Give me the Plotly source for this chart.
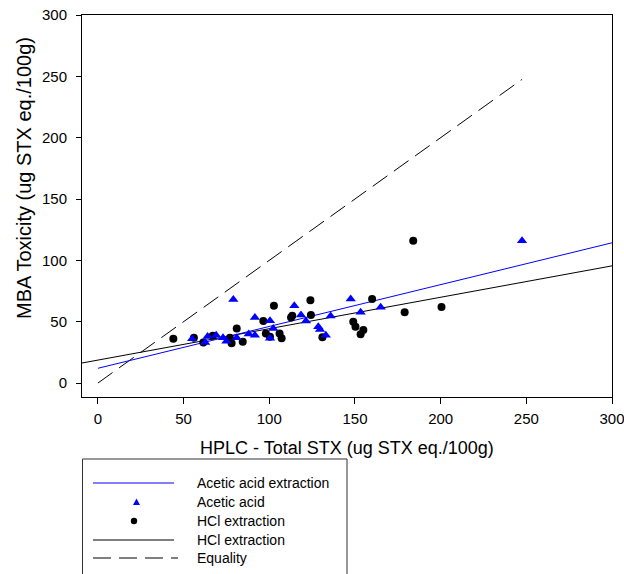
import plotly.graph_objects as go

# ---- data ----
acetic_x = [55, 62.6, 64, 69, 73, 75, 79, 81, 88, 91.6, 91.6, 100.4, 100.4, 102.3,
            114.6, 118.5, 121.4, 128.6, 129.6, 133, 135.8, 147.5, 153.3, 165, 247.5]
acetic_y = [36, 33, 38, 39, 37, 34, 68, 37, 40, 39, 53.5, 50.8, 36.4, 44.5,
            63, 55.4, 50.5, 45.9, 43.7, 39, 54.6, 68.5, 57.6, 61.7, 116]
hcl_x = [44, 56, 61.5, 67, 77, 78, 81, 84.5, 96.5, 98, 100.4, 102.7, 106, 107.2,
         112.7, 113.4, 124, 124.3, 131, 149, 150.3, 153.3, 154.9, 160, 179, 184, 200.5]
hcl_y = [36, 37, 33, 38.5, 37, 32.5, 44.5, 33.7, 50.5, 40.4, 37.7, 63, 40.4, 36.4,
         53.5, 54.8, 67.4, 55.4, 37.3, 50, 45.9, 39.7, 43.2, 68.5, 57.6, 116, 62]

acetic_fit = {"intercept": 12.0, "slope": 0.341, "x": [0, 300]}
hcl_fit = {"intercept": 18.7, "slope": 0.256, "x": [-9.3, 300]}
equality_x = [0, max(acetic_x + hcl_x)]

x_ticks = [0, 50, 100, 150, 200, 250, 300]
y_ticks = [0, 50, 100, 150, 200, 250, 300]
x_range = [-9.3, 300]
y_range = [-11.4, 300]

legend_labels = ["Acetic acid extraction", "Acetic acid", "HCl extraction",
                 "HCl extraction", "Equality"]

FONT = "Liberation Sans, Arial, sans-serif"
BLUE = "#0000FF"

fig = go.Figure()

# equality line
fig.add_trace(go.Scatter(x=equality_x, y=equality_x, mode="lines",
                         line=dict(color="black", width=1, dash="18px,8px"),
                         showlegend=False, hoverinfo="skip"))
# HCl regression
fig.add_trace(go.Scatter(x=hcl_fit["x"],
                         y=[hcl_fit["intercept"] + hcl_fit["slope"] * v for v in hcl_fit["x"]],
                         mode="lines", line=dict(color="black", width=1),
                         showlegend=False, hoverinfo="skip"))
# Acetic regression
fig.add_trace(go.Scatter(x=acetic_fit["x"],
                         y=[acetic_fit["intercept"] + acetic_fit["slope"] * v for v in acetic_fit["x"]],
                         mode="lines", line=dict(color=BLUE, width=1),
                         showlegend=False, hoverinfo="skip"))
# HCl points
fig.add_trace(go.Scatter(x=hcl_x, y=hcl_y, mode="markers",
                         marker=dict(symbol="circle", size=8, color="black"),
                         showlegend=False))
# Acetic points
fig.add_trace(go.Scatter(x=acetic_x, y=acetic_y, mode="markers",
                         marker=dict(symbol="triangle-up", size=9, color=BLUE),
                         showlegend=False))

# ---- layout geometry (pixels) ----
W, H = 624, 574
L, R, T, B = 82, 12, 15, 177
PW, PH = W - L - R, H - T - B


def px(p):
    return (p - L) / PW


def py(p):
    return (H - B - p) / PH


axis_common = dict(showgrid=False, zeroline=False, showline=True, linecolor="black",
                   linewidth=1, mirror=True, ticks="outside", tickcolor="black",
                   tickwidth=1, automargin=False, ticklabeloverflow="allow",
                   tickfont=dict(family=FONT, size=15, color="black"))

fig.update_layout(
    width=W, height=H, margin=dict(l=L, r=R, t=T, b=B, pad=0, autoexpand=False),
    paper_bgcolor="white", plot_bgcolor="white",
    font=dict(family=FONT, color="black"),
    showlegend=False,
    xaxis=dict(range=x_range, tickvals=x_ticks, ticklen=6, ticklabelstandoff=2, **axis_common),
    yaxis=dict(range=y_range, tickvals=y_ticks, ticklen=5, ticklabelstandoff=6, **axis_common),
)

shapes = []
annotations = []

# axis titles
annotations.append(dict(text="HPLC - Total STX (ug STX eq./100g)", x=0.5, y=py(448),
                        xref="paper", yref="paper", showarrow=False,
                        xanchor="center", yanchor="middle",
                        font=dict(family=FONT, size=18, color="black")))
annotations.append(dict(text="MBA Toxicity (ug STX eq./100g)", x=px(24), y=py(178),
                        xref="paper", yref="paper", showarrow=False, textangle=-90,
                        xanchor="center", yanchor="middle",
                        font=dict(family=FONT, size=20, color="black")))

# legend box
shapes.append(dict(type="rect", xref="paper", yref="paper",
                   x0=px(82.5), x1=px(347), y0=py(459), y1=py(620),
                   line=dict(color="#333333", width=1), fillcolor="rgba(0,0,0,0)"))
rows = [483, 502, 521, 540, 558]
sx0, sx1, sc = 93, 174, 134
# row 1: blue line
shapes.append(dict(type="line", xref="paper", yref="paper", x0=px(sx0), x1=px(sx1),
                   y0=py(rows[0]), y1=py(rows[0]), line=dict(color=BLUE, width=1)))
# row 2: triangle
tr = 3.5
shapes.append(dict(type="path", xref="paper", yref="paper",
                   path="M {:.5f},{:.5f} L {:.5f},{:.5f} L {:.5f},{:.5f} Z".format(
                       px(sc + 2.5 - tr), py(rows[1] + 3),
                       px(sc + 2.5 + tr), py(rows[1] + 3),
                       px(sc + 2.5), py(rows[1] - 3.5)),
                   fillcolor=BLUE, line=dict(color=BLUE, width=0)))
# row 3: circle
cr = 3.2
shapes.append(dict(type="circle", xref="paper", yref="paper",
                   x0=px(sc - cr), x1=px(sc + cr), y0=py(rows[2] + cr), y1=py(rows[2] - cr),
                   fillcolor="black", line=dict(color="black", width=0)))
# row 4: black line
shapes.append(dict(type="line", xref="paper", yref="paper", x0=px(sx0), x1=px(sx1),
                   y0=py(rows[3]), y1=py(rows[3]), line=dict(color="black", width=1)))
# row 5: dashed line
shapes.append(dict(type="line", xref="paper", yref="paper", x0=px(sx0), x1=px(sx1 + 4),
                   y0=py(rows[4]), y1=py(rows[4]),
                   line=dict(color="black", width=1, dash="18px,8px")))

for lab, r in zip(legend_labels, rows):
    annotations.append(dict(text=lab, x=px(195), y=py(r), xref="paper", yref="paper",
                            showarrow=False, xanchor="left", yanchor="middle",
                            font=dict(family=FONT, size=14, color="black")))

fig.update_layout(shapes=shapes, annotations=annotations)

fig.write_html("out.html")
